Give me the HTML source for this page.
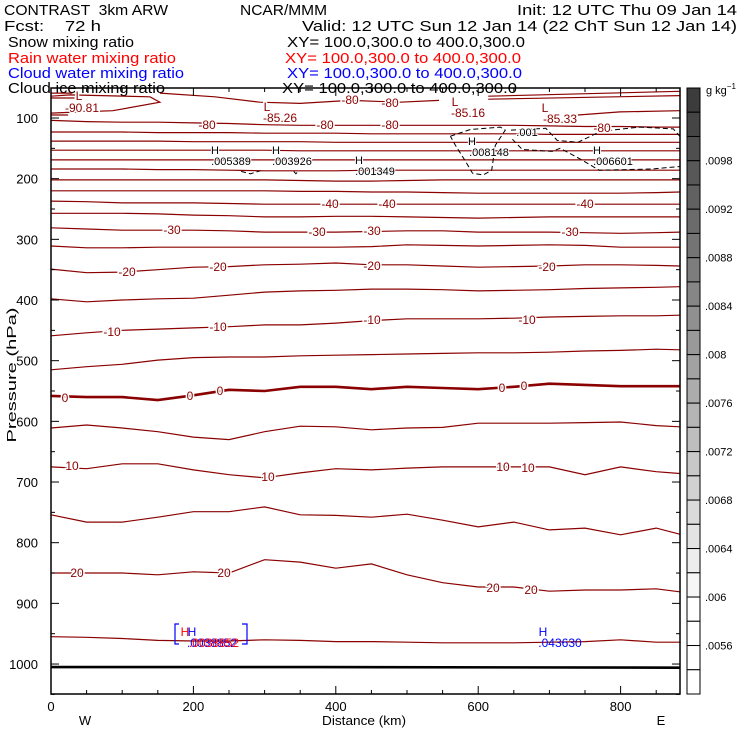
<!DOCTYPE html>
<html><head><meta charset="utf-8">
<style>
html,body{margin:0;padding:0;background:#fff;}
svg{display:block;font-family:"Liberation Sans",sans-serif;}
text{white-space:pre;}
.hdr{font-size:15px;}
.t{font-size:13px;}
.cl{font-size:12px;fill:#8b0000;stroke:#fff;stroke-width:3px;paint-order:stroke;}
.bk{font-size:11px;fill:#000;stroke:#fff;stroke-width:2px;paint-order:stroke;}
</style></head>
<body>
<svg id="chart" width="740" height="740" viewBox="0 0 740 740">
<g class="hdr">
<text x="4" y="15" textLength="164" lengthAdjust="spacingAndGlyphs">CONTRAST  3km ARW</text>
<text x="240" y="15" textLength="87" lengthAdjust="spacingAndGlyphs">NCAR/MMM</text>
<text x="517" y="15" textLength="220" lengthAdjust="spacingAndGlyphs">Init: 12 UTC Thu 09 Jan 14</text>
<text x="4" y="31" textLength="97" lengthAdjust="spacingAndGlyphs">Fcst:    72 h</text>
<text x="302" y="31" textLength="435" lengthAdjust="spacingAndGlyphs">Valid: 12 UTC Sun 12 Jan 14 (22 ChT Sun 12 Jan 14)</text>
<text x="8" y="47" textLength="126" lengthAdjust="spacingAndGlyphs">Snow mixing ratio</text>
<text x="287" y="47" textLength="238" lengthAdjust="spacingAndGlyphs">XY= 100.0,300.0 to 400.0,300.0</text>
<text x="8" y="63" fill="#ff0000" textLength="168" lengthAdjust="spacingAndGlyphs">Rain water mixing ratio</text>
<text x="285" y="63" fill="#ff0000" textLength="236" lengthAdjust="spacingAndGlyphs">XY= 100.0,300.0 to 400.0,300.0</text>
<text x="8" y="78" fill="#0000ff" textLength="176" lengthAdjust="spacingAndGlyphs">Cloud water mixing ratio</text>
<text x="287" y="78" fill="#0000ff" textLength="235" lengthAdjust="spacingAndGlyphs">XY= 100.0,300.0 to 400.0,300.0</text>
<text x="8" y="93" textLength="157" lengthAdjust="spacingAndGlyphs">Cloud ice mixing ratio</text>
<text x="282" y="93" textLength="235" lengthAdjust="spacingAndGlyphs">XY= 100.0,300.0 to 400.0,300.0</text>
</g>
<g id="plot"></g>
<g id="cbar"></g>
<text x="706" y="94" font-size="11">g kg<tspan font-size="8" dy="-5">−1</tspan></text>
<text transform="translate(16,375) rotate(-90)" text-anchor="middle" class="t" textLength="135" lengthAdjust="spacingAndGlyphs">Pressure (hPa)</text>
<text x="322" y="725" class="t" textLength="84" lengthAdjust="spacingAndGlyphs">Distance (km)</text>
<text x="85" y="725" text-anchor="middle" class="t">W</text>
<text x="661" y="725" text-anchor="middle" class="t">E</text>
</svg>
<script>
const xGrid=[0,50,100,150,200,250,300,350,400,450,500,550,600,650,700,750,800,850,883];
const levels=[-80,-75,-70,-65,-60,-55,-50,-45,-40,-35,-30,-25,-20,-15,-10,-5,0,5,10,15,20,25];
const levelPressures=[
[104,106,107,107,108,109,111,112,112,112,112,112,112,112,113,114,114,115,115],
[123,123,123,124,124,124,125,125,125,126,126,126,126,126,127,127,127,127,127],
[138,138,138,138,139,139,139,139,140,140,140,140,140,140,140,140,140,140,140],
[153,153,153,153,153,153,153,154,154,154,154,154,154,154,154,154,154,154,154],
[169,169,169,169,169,169,169,169,169,169,169,169,169,169,169,169,169,169,169],
[184,184,184,185,185,186,187,187,187,186,186,186,186,186,186,186,186,186,186],
[202,202,202,202,202,202,202,203,204,204,203,202,202,202,202,202,202,202,202],
[220,220,220,220,220,220,220,221,221,222,222,223,224,224,224,224,224,223,222],
[237,238,240,240,240,241,242,242,242,242,242,242,242,242,242,242,242,242,242],
[257,257,257,258,260,261,263,263,262,262,263,264,265,264,263,263,263,263,263],
[281,283,285,285,285,286,288,288,288,287,286,286,288,288,288,289,290,289,288],
[311,314,314,313,313,313,313,313,313,312,309,310,311,310,309,310,313,313,313],
[349,355,354,350,346,345,342,341,339,342,342,344,346,345,344,342,342,343,344],
[398,403,400,398,397,392,387,385,384,382,382,383,385,384,383,381,380,379,378],
[459,454,450,448,446,444,441,441,438,434,431,431,431,430,428,427,426,426,425],
[515,510,506,499,495,494,494,492,491,490,489,488,487,487,486,484,483,481,482],
[558,560,560,565,557,548,550,543,543,547,543,545,547,543,538,540,542,542,542],
[611,606,611,617,626,630,617,608,609,614,611,610,603,603,603,602,601,607,609],
[675,678,670,670,680,688,693,685,678,680,677,675,675,675,675,688,675,683,686],
[754,766,766,758,749,749,741,754,755,758,753,763,774,766,779,776,787,776,786],
[850,850,850,853,848,850,828,832,842,835,853,866,873,873,880,878,878,876,881],
[955,956,958,961,962,962,960,961,963,963,964,965,965,965,964,963,960,964,964]];
const partKm=[[0,27,139,153,87,41,0],[0,30],[0,33],[0,24],[153,230,293,350,420,490,545],[614,883],[614,883],[740,799,883]];
const partP=[[64,62,65,74,88,90,92],[59,59],[67,67],[95,95],[59,65,74,76,71,74,71],[64,56],[69,63],[95,90,88]];
const sfcKm=[0,380,883];
const sfcP=[1005,1005,1006];
const iceKm=[[561,589,631,638,624,619,607,592,582,568,561],[646,695,711,740,772,827,874,883],[648,662,704,715,744,770,844,883],[267,280,294],[341,344,347]];
const iceP=[[130,119,115,120,145,186,194,191,171,145,130],[120,117,137,140,122,115,118,130],[135,152,155,150,168,186,184,180],[188,192,187],[188,192,188]];
const cbLabels=[".0098",".0092",".0088",".0084",".008",".0076",".0072",".0068",".0064",".006",".0056"];
const cbBoxes=25;

const NS='http://www.w3.org/2000/svg';
const X0=51,X1=680,Y0=88,Y1=694;
const xs=km=>X0+km*0.712;
const ys=p=>118+(p-100)*0.6067;
function mk(tag,attrs,parent){const e=document.createElementNS(NS,tag);for(const k in attrs)e.setAttribute(k,attrs[k]);parent.appendChild(e);return e;}
const plot=document.getElementById('plot');

levelPressures.forEach((arr,i)=>{
  const pts=arr.map((p,j)=>xs(xGrid[j]).toFixed(1)+','+ys(p).toFixed(1)).join(' ');
  const pl=mk('polyline',{points:pts,fill:'none',stroke:'#8b0000','stroke-width':levels[i]===0?2.6:1.2},plot);
  
  
});
partKm.forEach((ks,i)=>{
  const pts=ks.map((k,j)=>xs(k).toFixed(1)+','+ys(partP[i][j]).toFixed(1)).join(' ');
  const pl=mk('polyline',{points:pts,fill:'none',stroke:'#8b0000','stroke-width':1.2},plot);
  
  
});
const sf=mk('polyline',{points:sfcKm.map((k,j)=>xs(k)+','+ys(sfcP[j])).join(' '),fill:'none',stroke:'#000','stroke-width':2.6},plot);


iceKm.forEach((ks,i)=>{
  const pts=ks.map((k,j)=>xs(k).toFixed(1)+','+ys(iceP[i][j]).toFixed(1)).join(' ');
  const pl=mk('polyline',{points:pts,fill:'none',stroke:'#000','stroke-width':1,'stroke-dasharray':'5,3'},plot);
  
  
});
const fr=mk('rect',{x:X0,y:Y0,width:X1-X0,height:Y1-Y0,fill:'none',stroke:'#000','stroke-width':1.5},plot);


for(let km=0;km<=880;km+=50){
  const L=(km%200===0)?8:4;
  mk('line',{x1:xs(km),x2:xs(km),y1:Y1,y2:Y1-L,stroke:'#000'},plot);
  mk('line',{x1:xs(km),x2:xs(km),y1:Y0,y2:Y0+L,stroke:'#000'},plot);
}
[0,200,400,600,800].forEach(k=>{
  const t=mk('text',{x:xs(k),y:711,'text-anchor':'middle','font-size':13},plot);t.textContent=k;
  
  
});
for(let p=100;p<=1050;p+=50){
  const L=(p%100===0)?8:4;
  mk('line',{x1:X0,x2:X0+L,y1:ys(p),y2:ys(p),stroke:'#000'},plot);
  mk('line',{x1:X1,x2:X1-L,y1:ys(p),y2:ys(p),stroke:'#000'},plot);
  if(p%100===0){
    const t=mk('text',{x:38,y:ys(p)+5,'text-anchor':'end','font-size':13},plot);t.textContent=p;
    
    
  }
}
const cl=[['-90.81',82,112],['L',79,100],['L',267,111],['-85.26',280,122],['L',455,106],['-85.16',468,117],['L',545,112],['-85.33',560,123],
['-80',207,129],['-80',325,129],['-80',390,129],['-80',350,104],['-80',390,107],['-80',602,132],
['-40',330,208],['-40',387,208],['-40',585,208],['-30',172,234],['-30',317,236],['-30',372,235],['-30',570,236],
['-20',127,276],['-20',218,271],['-20',372,270],['-20',547,271],['-10',112,336],['-10',218,331],['-10',372,324],['-10',527,324],
['0',65,402],['0',190,400],['0',220,395],['0',502,392],['0',524,390],['10',72,470],['10',268,481],['10',503,471],['10',528,472],
['20',77,577],['20',224,577],['20',493,592],['20',531,594]];
cl.forEach(c=>{const t=mk('text',{x:c[1],y:c[2],'text-anchor':'middle',class:'cl'},plot);t.textContent=c[0];
  
  });
const hl=[['H',215,154],['.005389',231,165],['H',276,154],['.003926',292,165],['H',359,164],['.001349',375,175],['H',472,145],['.008148',489,156],['.001',527,136],['H',597,154],['.006601',613,165]];
hl.forEach(c=>{const t=mk('text',{x:c[1],y:c[2],'text-anchor':'middle',class:'bk'},plot);t.textContent=c[0];
  
  });
const br=mk('path',{d:'M179,624 h-4 v20 h4 M242,624 h5 v20 h-5',fill:'none',stroke:'#0000ff','stroke-width':1.2},plot);


[['H',185,636,'#ff0000'],['H',192,636,'#0000ff'],['.0038852',212,647,'#0000ff'],['.0038852',214,647,'#ff0000'],['H',543,636,'#0000ff'],['.043630',560,647,'#0000ff']].forEach(c=>{
  const t=mk('text',{x:c[1],y:c[2],'text-anchor':'middle','font-size':12,fill:c[3]},plot);t.textContent=c[0];
  
  });
const cb=document.getElementById('cbar');
const bh=(694-88)/cbBoxes;
for(let k=0;k<cbBoxes;k++){
  let g=k>=21?255:Math.round(0x3c+(0xf6-0x3c)*k/20);
  const r=mk('rect',{x:687,y:88+k*bh,width:13,height:bh,fill:`rgb(${g},${g},${g})`,stroke:'#000','stroke-width':1},cb);
  
  
}
cbLabels.forEach((s,i)=>{const t=mk('text',{x:705,y:88+(3+2*i)*bh+4,'font-size':11},cb);t.textContent=s;
  
  });
</script>
</body></html>
